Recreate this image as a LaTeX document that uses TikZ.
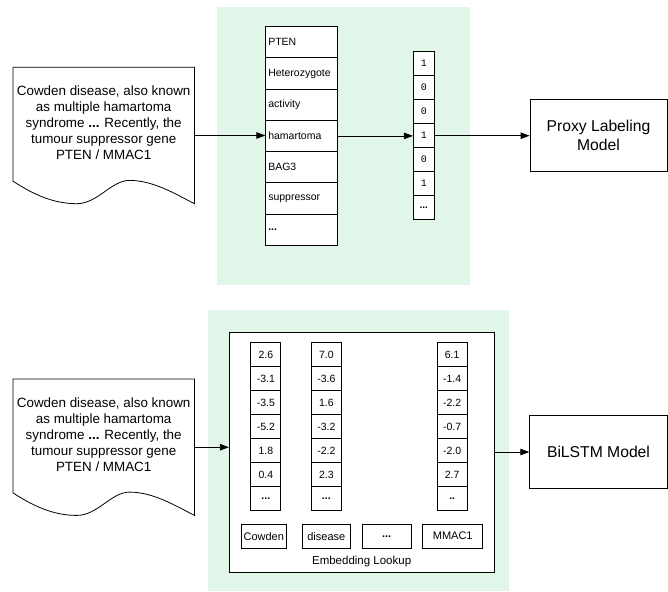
\documentclass[tikz,border=0pt]{standalone}
\usepackage{fontspec}
\setmainfont{Liberation Sans}
\setmonofont{Liberation Mono}
\usetikzlibrary{arrows.meta,calc,positioning}
\definecolor{panelgreen}{RGB}{225,245,233}
\tikzset{
    GR/.style ={fill=panelgreen,draw=none},
    WC/.style ={rectangle,draw,fill=white,text width=67pt,align=left,minimum height=31.2pt,inner sep=2.5pt,font=\fontsize{10.5}{12}\selectfont},
    VC/.style ={rectangle,draw,fill=white,minimum width=21pt,minimum height=24pt,inner sep=0pt,font=\ttfamily\fontsize{10}{12}\selectfont},
    EC/.style ={rectangle,draw,fill=white,minimum width=30pt,minimum height=24pt,inner sep=0pt,font=\fontsize{10.5}{12}\selectfont},
    WB/.style ={rectangle,draw,fill=white,minimum height=24.3pt,inner sep=0pt,font=\fontsize{11}{12}\selectfont},
    MB/.style ={rectangle,draw,fill=white,align=center,font=\fontsize{15.7}{19}\selectfont},
    DT/.style ={align=center,font=\fontsize{13.4}{16}\selectfont},
    DB/.style ={rectangle,minimum width=180.7pt,minimum height=135.6pt,inner sep=0pt},
    AR/.style ={-{Triangle[length=9pt,width=6.5pt]}}}
% document outline with a wavy bottom round node #1
\newcommand\DocShape[1]{%
    \draw ($(#1.south west)+(0,-22.6)$)
        .. controls ($(#1.south west)+(25,-6)$) and ($(#1.south west)+(45,0)$) .. ($(#1.south west)+(63.7,0)$)
        .. controls ($(#1.south west)+(85,0)$) and ($(#1.south west)+(98,-23.3)$) .. ($(#1.south west)+(116.7,-23.3)$)
        .. controls ($(#1.south west)+(140,-23.3)$) and ($(#1.south west)+(162,-10)$) .. (#1.south east)
        -- (#1.north east) -- (#1.north west) -- cycle;}

\begin{document}
\begin{tikzpicture}[x=1pt,y=-1pt,line width=0.8pt]
        \useasboundingbox (0,0) rectangle (668,591);
        % top: one-hot features
        \fill[GR] (217,7.3) rectangle (470,285);
        \node[DB] (doc1) at (103.7,135.5){};
        \DocShape{doc1}
        \node[DT] (txt1) at ([yshift=12.5pt]doc1.center){Cowden disease, also known\\as multiple hamartoma\\syndrome \textbf{...} Recently, the\\tumour suppressor gene\\PTEN / MMAC1};
        \foreach \w [count=\i from 0] in {PTEN,Heterozygote,activity,hamartoma,BAG3,suppressor,\textbf{...}}
            \node[WC] (w\i) at (301.75,{42.3+31.2*\i}){\w};
        \foreach \v [count=\i from 0] in {1,0,0,1,0,1,\textbf{\rmfamily...}}
            \node[VC] (v\i) at (423.8,{63.7+24*\i}){\v};
        \node[MB,minimum width=137pt,minimum height=72.7pt] (proxy) at (598.5,135.3){Proxy Labeling\\Model};
        \draw[AR] (doc1.east) -- (doc1.east -| w3.west);
        \draw[AR] (w3.east) -- (w3.east -| v3.west);
        \draw[AR] (v3.east) -- (v3.east -| proxy.west);

        % bottom: embeddings
        \fill[GR] (208.3,310) rectangle (509,591);
        \node[DB] (doc2) at (103.7,447.2){};
        \DocShape{doc2}
        \node[DT] (txt2) at ([yshift=12.5pt]doc2.center){Cowden disease, also known\\as multiple hamartoma\\syndrome \textbf{...} Recently, the\\tumour suppressor gene\\PTEN / MMAC1};
        \node[rectangle,draw,fill=white,minimum width=264.7pt,minimum height=240.4pt] (emb) at (361.65,452.5){};
        \node[font=\fontsize{11.5}{12}\selectfont] (emblbl) at (361.65,561.7){Embedding Lookup};
        \foreach \c/\x/\vals in {a/265.8/{2.6,-3.1,-3.5,-5.2,1.8,0.4,\textbf{...}},
                                 b/326.3/{7.0,-3.6,1.6,-3.2,-2.2,2.3,\textbf{...}},
                                 c/452.2/{6.1,-1.4,-2.2,-0.7,-2.0,2.7,\textbf{..}}}{
            \foreach \v [count=\i from 0] in \vals
                \node[EC] (e\c\i) at (\x,{354.7+24*\i}){\v};
        }
        \node[WB,minimum width=44.3pt] (tcowden) at (263.8,536.2){Cowden};
        \node[WB,minimum width=48.7pt] (tdisease) at (326.3,536.2){disease};
        \node[WB,minimum width=48.7pt] (tdots) at (386.7,536.2){\textbf{...}};
        \node[WB,minimum width=60pt] (tmmac) at (452.7,536.2){MMAC1};
        \node[MB,minimum width=137.5pt,minimum height=72.6pt] (bilstm) at (598.5,452){BiLSTM Model};
        \draw[AR] (doc2.east) -- (doc2.east -| emb.west);
        \draw[AR] (emb.east |- bilstm.west) -- (bilstm.west);
    \end{tikzpicture}
\end{document}
